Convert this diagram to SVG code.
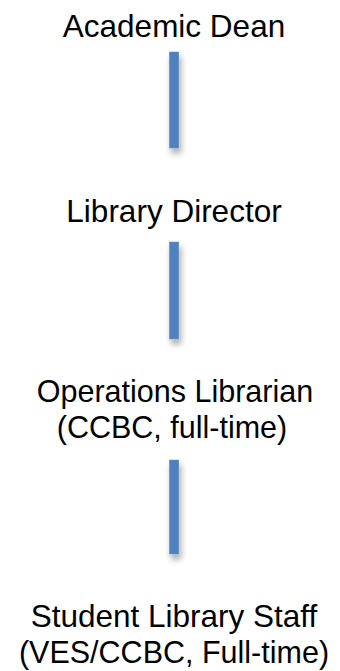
<svg xmlns="http://www.w3.org/2000/svg" width="340" height="671" viewBox="0 0 340 671">
<defs>
<filter id="sh" x="-100%" y="-20%" width="300%" height="140%">
<feDropShadow dx="2" dy="5" stdDeviation="3" flood-color="#000" flood-opacity="0.35"/>
</filter>
</defs>
<style>
text{font-family:"Liberation Sans",Arial,sans-serif;font-size:31.5px;fill:#000;text-anchor:middle}
.sm{font-size:30.5px}
.bar{fill:#4F81BD;stroke:#6a95c9;stroke-width:0.5;filter:url(#sh)}
</style>
<rect width="340" height="671" fill="#fff"/>
<g id="connectors">
<rect class="bar" x="169.3" y="52" width="9.5" height="96"/>
<rect class="bar" x="169.3" y="242" width="9.5" height="97"/>
<rect class="bar" x="169.3" y="460" width="9.5" height="94"/>
</g>
<g id="academic-dean"><text x="174" y="37">Academic Dean</text></g>
<g id="library-director"><text x="174" y="222">Library Director</text></g>
<g id="operations-librarian"><text class="sm" x="175" y="402">Operations Librarian</text><text class="sm" x="172" y="438">(CCBC, full-time)</text></g>
<g id="student-staff"><text x="174" y="627">Student Library Staff</text><text class="sm" x="174" y="663">(VES/CCBC, Full-time)</text></g>
</svg>
